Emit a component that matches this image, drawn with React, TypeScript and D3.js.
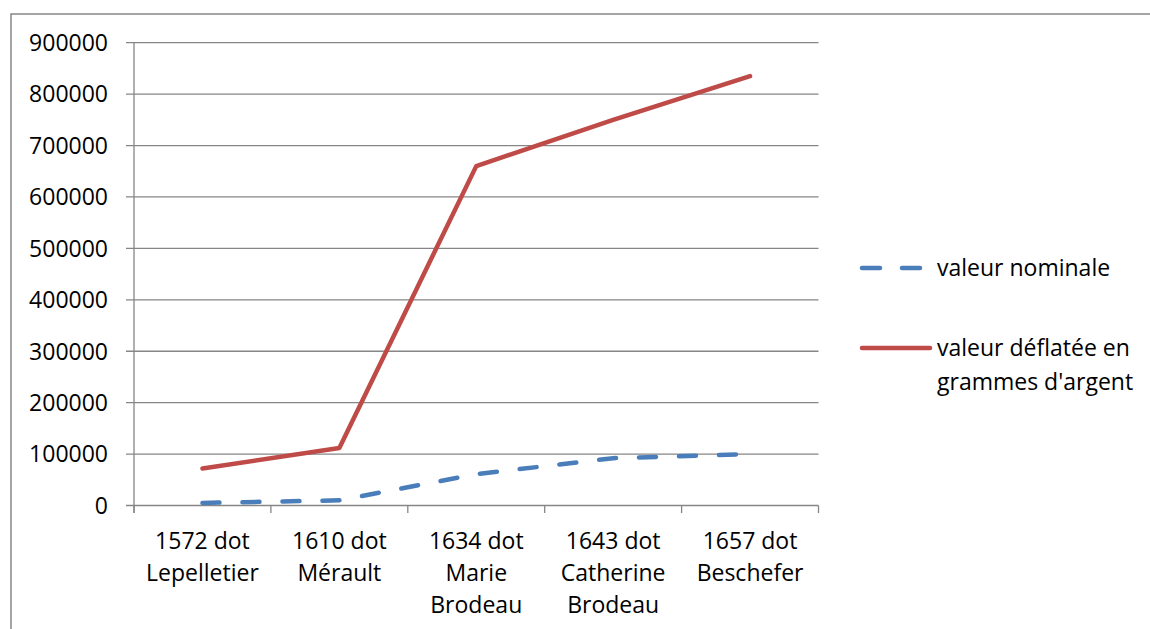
import React from "react";
import * as d3 from "d3";

const categories: string[][] = [
  ["1572 dot", "Lepelletier"],
  ["1610 dot", "Mérault"],
  ["1634 dot", "Marie", "Brodeau"],
  ["1643 dot", "Catherine", "Brodeau"],
  ["1657 dot", "Beschefer"],
];
const nominal: number[] = [5000, 10000, 61000, 92000, 100000];
const deflated: number[] = [72000, 112000, 660000, 750000, 835000];
const yTicks: number[] = [0, 100000, 200000, 300000, 400000, 500000, 600000, 700000, 800000, 900000];
const seriesNames: string[][] = [["valeur nominale"], ["valeur déflatée en", "grammes d'argent"]];

const W = 1150;
const H = 629;
const FONT = "'Open Sans', sans-serif";
const GRID = "#868686";
const BLUE = "#4A7EBB";
const RED = "#BE4B48";

export default function App() {
  const keys = categories.map((c) => c.join(" "));
  const x = d3.scaleBand<string>().domain(keys).range([134, 818.5]);
  const y = d3.scaleLinear().domain([0, 900000]).range([505.5, 42.7]);
  const cx = (i: number) => (x(keys[i]) as number) + x.bandwidth() / 2;
  const line = d3
    .line<number>()
    .x((_, i) => cx(i))
    .y((d) => y(d));
  const [x0, x1] = x.range();
  const boundaries = [...keys.map((k) => x(k) as number), x1];

  return (
    <svg
      width={W}
      height={H}
      style={{ position: "absolute", left: 0, top: 0, background: "#fff" }}
      fontFamily={FONT}
    >
      <rect x={11} y={14} width={W + 10} height={H + 10} fill="#fff" stroke={GRID} strokeWidth={1.5} />
      {yTicks.map((t) => (
        <g key={t}>
          <line x1={126} x2={x1} y1={y(t)} y2={y(t)} stroke={GRID} strokeWidth={1.3} />
          <text x={108} y={y(t)} dy="0.36em" textAnchor="end" fontSize={23} fill="#000">
            {t}
          </text>
        </g>
      ))}
      <line x1={x0} x2={x0} y1={y(900000)} y2={513} stroke={GRID} strokeWidth={1.3} />
      {boundaries.map((b, i) => (
        <line key={i} x1={b} x2={b} y1={y(0)} y2={513} stroke={GRID} strokeWidth={1.3} />
      ))}
      {categories.map((lines, i) =>
        lines.map((l, j) => (
          <text key={i + "-" + j} x={cx(i)} y={541 + j * 32} dy="0.36em" textAnchor="middle" fontSize={23} fill="#000">
            {l}
          </text>
        ))
      )}
      <path
        d={line(nominal) as string}
        fill="none"
        stroke={BLUE}
        strokeWidth={4.5}
        strokeLinecap="round"
        strokeDasharray="17 23"
      />
      <path d={line(deflated) as string} fill="none" stroke={RED} strokeWidth={4.5} strokeLinecap="round" strokeLinejoin="round" />
      {/* legend */}
      <line x1={862} x2={922} y1={268} y2={268} stroke={BLUE} strokeWidth={4.5} strokeLinecap="round" strokeDasharray="18 22" />
      <text x={937} y={268} dy="0.36em" fontSize={23} fill="#000">
        {seriesNames[0][0]}
      </text>
      <line x1={862} x2={930} y1={348} y2={348} stroke={RED} strokeWidth={4.5} strokeLinecap="round" />
      {seriesNames[1].map((l, j) => (
        <text key={j} x={937} y={348 + j * 34} dy="0.36em" fontSize={23} fill="#000">
          {l}
        </text>
      ))}
    </svg>
  );
}
